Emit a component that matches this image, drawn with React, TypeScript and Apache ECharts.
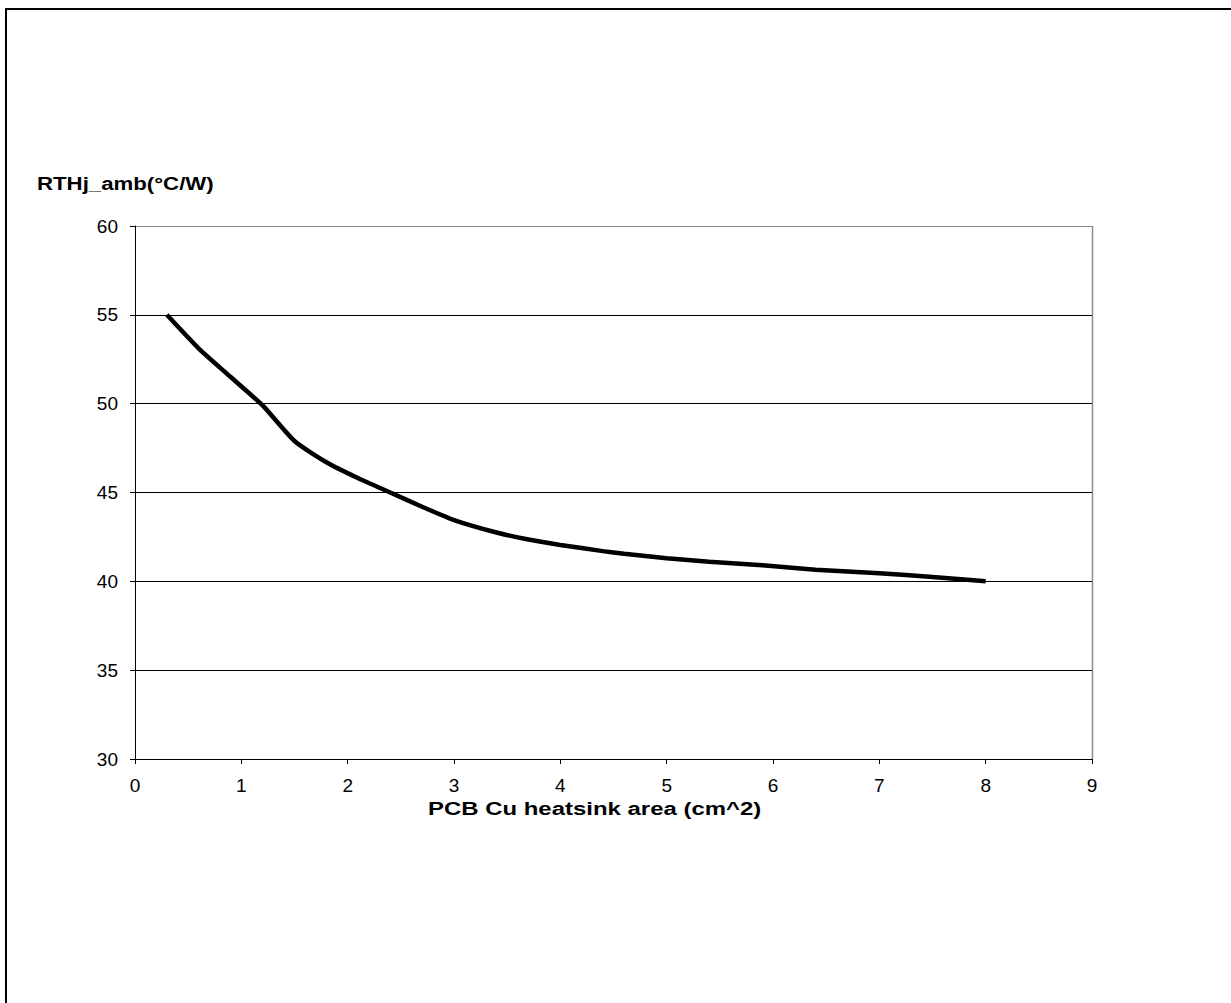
import React, { useEffect, useRef } from "react";
import * as echarts from "echarts";

const areaCm2 = [0.3, 0.6, 0.9, 1.2, 1.5, 1.8, 2.1, 2.4, 2.7, 3.0, 3.4, 3.7, 4.0, 4.4, 4.6, 5.0, 5.4, 5.9, 6.4, 7.0, 7.5, 8.0];
const rthValues = [55.0, 53.1, 51.5, 49.9, 47.9, 46.7, 45.8, 45.0, 44.2, 43.45, 42.75, 42.35, 42.05, 41.7, 41.55, 41.3, 41.1, 40.9, 40.65, 40.45, 40.25, 40.0];
const yAxisTitle = "RTHj_amb(°C/W)";
const xAxisTitle = "PCB Cu heatsink area (cm^2)";

const FONT = "'Liberation Sans', Arial, Helvetica, sans-serif";

export default function App() {
  const ref = useRef<HTMLDivElement>(null);
  useEffect(() => {
    if (!ref.current) return;
    const chart = echarts.init(ref.current, undefined, { renderer: "svg" });
    const data = areaCm2.map((x, i) => [x, rthValues[i]]);
    chart.setOption({
      animation: false,
      backgroundColor: "#ffffff",
      grid: { left: 135, right: 139, top: 226, bottom: 244, show: false },
      xAxis: {
        type: "value",
        min: 0,
        max: 9,
        interval: 1,
        axisLine: { show: true, onZero: false, lineStyle: { color: "#000", width: 1 } },
        axisTick: { show: true, length: 5, lineStyle: { color: "#000" } },
        axisLabel: { color: "#000", fontSize: 19, fontFamily: FONT, margin: 17 },
        splitLine: { show: false },
      },
      yAxis: {
        type: "value",
        min: 30,
        max: 60,
        interval: 5,
        axisLine: { show: true, onZero: false, lineStyle: { color: "#000", width: 1 } },
        axisTick: { show: true, length: 5, lineStyle: { color: "#000" } },
        axisLabel: { color: "#000", fontSize: 19, fontFamily: FONT, margin: 17 },
        splitLine: {
          show: true,
          lineStyle: { color: ["#000", "#000", "#000", "#000", "#000", "#000", "#8c8c8c"], width: 1 },
        },
      },
      graphic: [
        { type: "line", shape: { x1: 6, y1: 9, x2: 6, y2: 1003 }, style: { stroke: "#000", lineWidth: 2 } },
        { type: "line", shape: { x1: 5, y1: 9, x2: 1231, y2: 9 }, style: { stroke: "#000", lineWidth: 2 } },
        { type: "line", shape: { x1: 1092.5, y1: 226, x2: 1092.5, y2: 759 }, style: { stroke: "#8c8c8c", lineWidth: 1.5 } },
        {
          type: "text",
          x: 37,
          y: 183,
          scaleX: 1.17,
          style: { text: yAxisTitle, fill: "#000", font: `bold 19px ${FONT}`, textVerticalAlign: "middle", verticalAlign: "middle" },
        },
        {
          type: "text",
          x: 428,
          y: 808,
          scaleX: 1.26,
          style: { text: xAxisTitle, fill: "#000", font: `bold 19px ${FONT}`, textVerticalAlign: "middle", verticalAlign: "middle" },
        },
      ],
      series: [
        {
          type: "line",
          data,
          showSymbol: false,
          symbol: "none",
          smooth: 0.2,
          lineStyle: { color: "#000", width: 4.5 },
        },
      ],
    });
    return () => chart.dispose();
  }, []);
  return (
    <div
      ref={ref}
      style={{ position: "absolute", left: 0, top: 0, width: 1231, height: 1003 }}
    />
  );
}
